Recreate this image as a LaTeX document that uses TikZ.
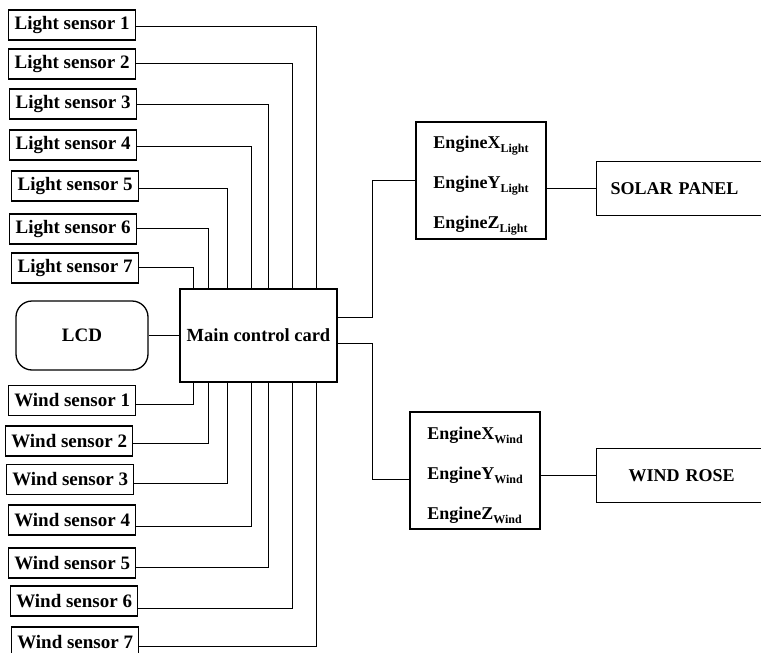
\documentclass[tikz,border=0pt]{standalone}
\usepackage{fontspec}
\setmainfont{Liberation Serif}
\newcommand{\engsub}[1]{\raisebox{-4pt}{\fontsize{12}{12}\selectfont #1}}
\newcommand{\engstrut}{\rule{0pt}{23pt}}
\tikzset{
  sensor/.style={draw, line width=1.3pt, minimum width=127pt, minimum height=30pt, inner sep=0pt, anchor=west, font=\fontsize{19}{20}\selectfont\bfseries},
  cardbox/.style={draw, line width=1.3pt, minimum width=157pt, minimum height=93pt, inner sep=0pt, font=\fontsize{18.5}{20}\selectfont\bfseries},
  lcdbox/.style={draw, line width=1.3pt, rounded corners=16pt, minimum width=132pt, minimum height=69pt, inner sep=0pt, font=\fontsize{19}{20}\selectfont\bfseries},
  enginebox/.style={draw, line width=1.3pt, minimum width=130pt, minimum height=117pt, inner sep=0pt, align=left, font=\fontsize{18}{40}\selectfont\bfseries},
  outbox/.style={draw, line width=1.3pt, minimum height=54pt, inner ysep=0pt, anchor=west, align=left, font=\fontsize{18}{20}\selectfont\bfseries},
  wire/.style={line width=1pt}
}
\begin{document}
\begin{tikzpicture}[x=1pt,y=-1pt]
        \useasboundingbox (0,0) rectangle (761,653);

        % Main control card and LCD
        \node[cardbox] (card) at (258.5,335.5) {Main control card};
        \node[lcdbox] (lcd) at (82,335.5) {LCD};
        \draw[wire] (lcd.east) -- (card.west);

        % Light sensors
        \foreach \i/\lx/\cy/\ly/\vx in {1/8/25/26/316, 2/8/64/63/292, 3/9/104/104/268, 4/9/145/146/251, 5/11/186/188/227, 6/9/229/228/208, 7/11/268/267/193}{
            \node[sensor] (ls\i) at (\lx,\cy) {Light sensor \i};
            \draw[wire] (ls\i.east |- 0,\ly) -| (card.north -| \vx,0);
        }

        % Wind sensors
        \foreach \i/\lx/\cy/\ly/\vx in {1/8/400.5/404/193, 2/5/441/443/208, 3/6/479.5/483/227, 4/8/520/526/251, 5/8/563/567/268, 6/10/601/608/292, 7/11/642/646/316}{
            \node[sensor] (ws\i) at (\lx,\cy) {Wind sensor \i};
            \draw[wire] (ws\i.east |- 0,\ly) -| (card.south -| \vx,0);
        }

        % Engines
        \node[enginebox] (englight) at (481,180.5) {\engstrut EngineX\engsub{Light}\\EngineY\engsub{Light}\\EngineZ\engsub{Light}};
        \node[enginebox] (engwind) at (475,470.5) {\engstrut EngineX\engsub{Wind}\\EngineY\engsub{Wind}\\EngineZ\engsub{Wind}};

        % Solar panel and wind rose
        \node[outbox, inner xsep=14pt, text width=150pt] (solar) at (596,188.5) {SOLAR PANEL};
        \node[outbox, inner xsep=32pt, text width=130pt] (rose) at (596,475.5) {WIND ROSE};

        % Card to engines
        \draw[wire] (card.east |- 0,317) -| (englight.west -| 372,0) -- (englight.west);
        \draw[wire] (card.east |- 0,343) -| (372,479) -- (engwind.west |- 0,479);

        % Engines to outputs
        \draw[wire] (solar.west -| englight.east) -- (solar.west);
        \draw[wire] (rose.west -| engwind.east) -- (rose.west);
\end{tikzpicture}
\end{document}
